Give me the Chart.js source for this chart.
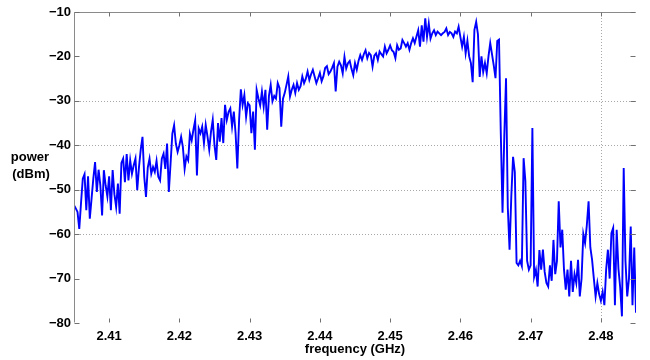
<!DOCTYPE html>
<html><head><meta charset="utf-8">
<script src="https://cdn.jsdelivr.net/npm/chart.js@4.4.0/dist/chart.umd.min.js"></script>
<style>html,body{margin:0;padding:0;background:#fff;}#c{display:block;}</style>
</head><body>
<canvas id="c" width="650" height="360"></canvas>
<script>
const freqStartGHz = 2.405;
const freqStepGHz = 0.00025;
const powerDbm = [
-53.5,-54.2,-55,-58.8,-53,-47.5,-46.5,-54.6,-47,-56.5,
-52,-47.5,-43.8,-50.5,-45.5,-49,-55.8,-45.6,-49,-51.5,
-47,-54.6,-45.6,-51,-53.9,-48.6,-55.4,-44,-43,-48.3,
-42,-47.9,-43.4,-46.4,-44.5,-43,-50.1,-44.9,-41,-38.1,
-47.1,-51.6,-45,-43,-46.4,-44.9,-46,-43.5,-47.1,-47.9,
-43,-41.9,-45.3,-39.6,-50.5,-44,-37.4,-35.5,-39.6,-41.5,
-40,-38.1,-40.4,-45.3,-42.5,-43.4,-37.4,-38.9,-36.5,-34.4,
-46.8,-36.2,-37.3,-35.8,-39.5,-35.4,-38,-41,-37,-34.3,
-40,-43.3,-35,-39.2,-33.9,-39.5,-30.9,-34.3,-32.5,-31.7,
-35.8,-32.4,-37.3,-45.2,-34.3,-27.4,-30.9,-28.7,-33.6,-30.5,
-31,-37.3,-32.4,-41,-27.5,-29.4,-31,-27.9,-31.3,-27.5,
-36.5,-28.9,-26.4,-30.1,-28.9,-29.5,-26,-27.1,-35.8,-29.5,
-28.2,-26.4,-24.5,-29,-27.5,-26.4,-28.2,-26,-27.5,-26.7,
-24.5,-26,-25,-23.4,-25.3,-24,-23,-24.5,-26,-24.9,
-23.7,-25.6,-24.5,-22.6,-22.2,-24,-23.4,-22.5,-21.5,-27.9,
-22.3,-21.2,-22,-23.8,-20.1,-22.7,-21.5,-21,-22.8,-24.2,
-21.5,-23,-21,-19.7,-20.8,-19.5,-18.6,-20.4,-19.2,-19.7,
-22.3,-19.8,-19.3,-20.8,-18.9,-19.5,-20,-17.8,-19.3,-18.5,
-17.5,-18.6,-19,-20.4,-17.5,-18.5,-18.2,-16.3,-17,-17.8,
-17,-18.5,-17,-15.9,-17,-15.5,-14.1,-17.8,-13,-16.7,
-11.4,-15.6,-12.6,-16,-14.8,-14.1,-15.2,-14.4,-14.8,-15.2,
-14.8,-14.5,-13.7,-15.2,-14.5,-14.8,-15.6,-14.4,-14.8,-13.3,
-15.6,-17.8,-15.6,-19.3,-16.5,-20,-21.5,-25.8,-14,-12.2,
-15,-24.6,-20,-23.5,-21.5,-23.8,-20,-17,-19.5,-22,
-24.9,-16.5,-16.2,-37,-55.2,-38,-24.9,-54,-63.5,-51.5,
-42.6,-46,-66.5,-67,-66,-67.2,-42.9,-48,-66,-68,
-67,-36.1,-69.6,-68,-71.8,-63.6,-68,-63.5,-68.5,-71,
-71.8,-67,-70.5,-61.3,-69,-66,-52.6,-63,-59,-68,
-72.5,-68,-74,-66,-73,-69,-71,-65.8,-74,-70,
-60,-62,-58,-52.6,-63,-65.8,-70,-74,-71,-73.5,
-75,-73,-76,-68,-63.5,-70,-59.8,-58.6,-76,-59,
-67.8,-72,-78.5,-45.1,-66,-74,-70,-58.3,-76,-63,-77.7
];
const xTickValues = [2.41, 2.42, 2.43, 2.44, 2.45, 2.46, 2.47, 2.48];
const yTickValues = [-80, -70, -60, -50, -40, -30, -20, -10];
const yGridValues = [-60, -50, -40, -30];
const xGridValues = [2.48];
const xRange = [2.405, 2.485];
const yRange = [-80, -10];
const xTitle = 'frequency (GHz)';
const yTitleLines = ['power', '(dBm)'];

const points = powerDbm.map((p, i) => ({ x: freqStartGHz + i * freqStepGHz, y: p }));

const FONT = "'Liberation Sans', Arial, Helvetica, sans-serif";
Chart.defaults.font.family = FONT;
Chart.defaults.font.size = 13;
Chart.defaults.font.weight = 'bold';
Chart.defaults.color = '#000';

const matlabAxes = {
  id: 'matlabAxes',
  beforeDatasetsDraw(chart) {
    const { ctx, chartArea: a, scales: { x, y } } = chart;
    ctx.save();
    ctx.strokeStyle = '#a8a8a8';
    ctx.lineWidth = 1;
    ctx.setLineDash([1, 2]);
    yGridValues.forEach(v => {
      const py = Math.round(y.getPixelForValue(v)) + 0.5;
      ctx.beginPath(); ctx.moveTo(a.left, py); ctx.lineTo(a.right, py); ctx.stroke();
    });
    xGridValues.forEach(v => {
      const px = Math.round(x.getPixelForValue(v)) + 0.5;
      ctx.beginPath(); ctx.moveTo(px, a.top); ctx.lineTo(px, a.bottom); ctx.stroke();
    });
    ctx.restore();
  },
  afterDatasetsDraw(chart) {
    const { ctx, chartArea: a, scales: { x, y } } = chart;
    ctx.save();
    ctx.setLineDash([]);
    ctx.lineWidth = 1;
    ctx.strokeStyle = '#8a8a8a';
    const L = Math.round(a.left) + 0.5, T = Math.round(a.top) + 0.5;
    const R = Math.round(a.right) - 0.5, B = Math.round(a.bottom) - 0.5;
    ctx.beginPath();
    ctx.moveTo(L, B); ctx.lineTo(L, T); ctx.lineTo(R, T);
    ctx.stroke();
    const tk = 5;
    ctx.strokeStyle = '#707070';
    yTickValues.forEach(v => {
      const py = Math.round(y.getPixelForValue(v)) + 0.5;
      ctx.beginPath(); ctx.moveTo(L, py); ctx.lineTo(L + tk, py); ctx.stroke();
      ctx.beginPath(); ctx.moveTo(R, py); ctx.lineTo(R - tk, py); ctx.stroke();
    });
    xTickValues.forEach(v => {
      const px = Math.round(x.getPixelForValue(v)) + 0.5;
      ctx.beginPath(); ctx.moveTo(px, T); ctx.lineTo(px, T + 4); ctx.stroke();
      ctx.beginPath(); ctx.moveTo(px, B); ctx.lineTo(px, B - 4); ctx.stroke();
    });
    ctx.fillStyle = '#000';
    ctx.font = 'bold 13px ' + FONT;
    ctx.textAlign = 'center';
    ctx.textBaseline = 'alphabetic';
    ctx.fillText(xTitle, (a.left + a.right) / 2, 353);
    ctx.fillText(yTitleLines[0], 30, 161);
    ctx.fillText(yTitleLines[1], 31, 178);
    ctx.restore();
  }
};

new Chart(document.getElementById('c'), {
  type: 'line',
  data: {
    datasets: [{
      data: points,
      borderColor: '#0000ff',
      borderWidth: 1.9,
      pointRadius: 0,
      tension: 0,
      fill: false
    }]
  },
  options: {
    responsive: false,
    animation: false,
    events: [],
    layout: { padding: { top: 12, right: 14, bottom: 0, left: 0 } },
    plugins: { legend: { display: false }, tooltip: { enabled: false } },
    scales: {
      x: {
        type: 'linear',
        min: xRange[0], max: xRange[1],
        afterBuildTicks: s => { s.ticks = xTickValues.map(v => ({ value: v })); },
        afterFit: s => { s.height = 37; },
        grid: { display: false, drawTicks: false },
        border: { display: false },
        ticks: { padding: 6, maxRotation: 0, autoSkip: false, callback: v => Number(v).toFixed(2) }
      },
      y: {
        type: 'linear',
        min: yRange[0], max: yRange[1],
        afterBuildTicks: s => { s.ticks = yTickValues.map(v => ({ value: v })); },
        afterFit: s => { s.width = 74; },
        grid: { display: false, drawTicks: false },
        border: { display: false },
        ticks: { padding: 3, autoSkip: false, callback: v => (v < 0 ? '\u2212' + Math.abs(v) : String(v)) }
      }
    }
  },
  plugins: [matlabAxes]
});
</script>
</body></html>
